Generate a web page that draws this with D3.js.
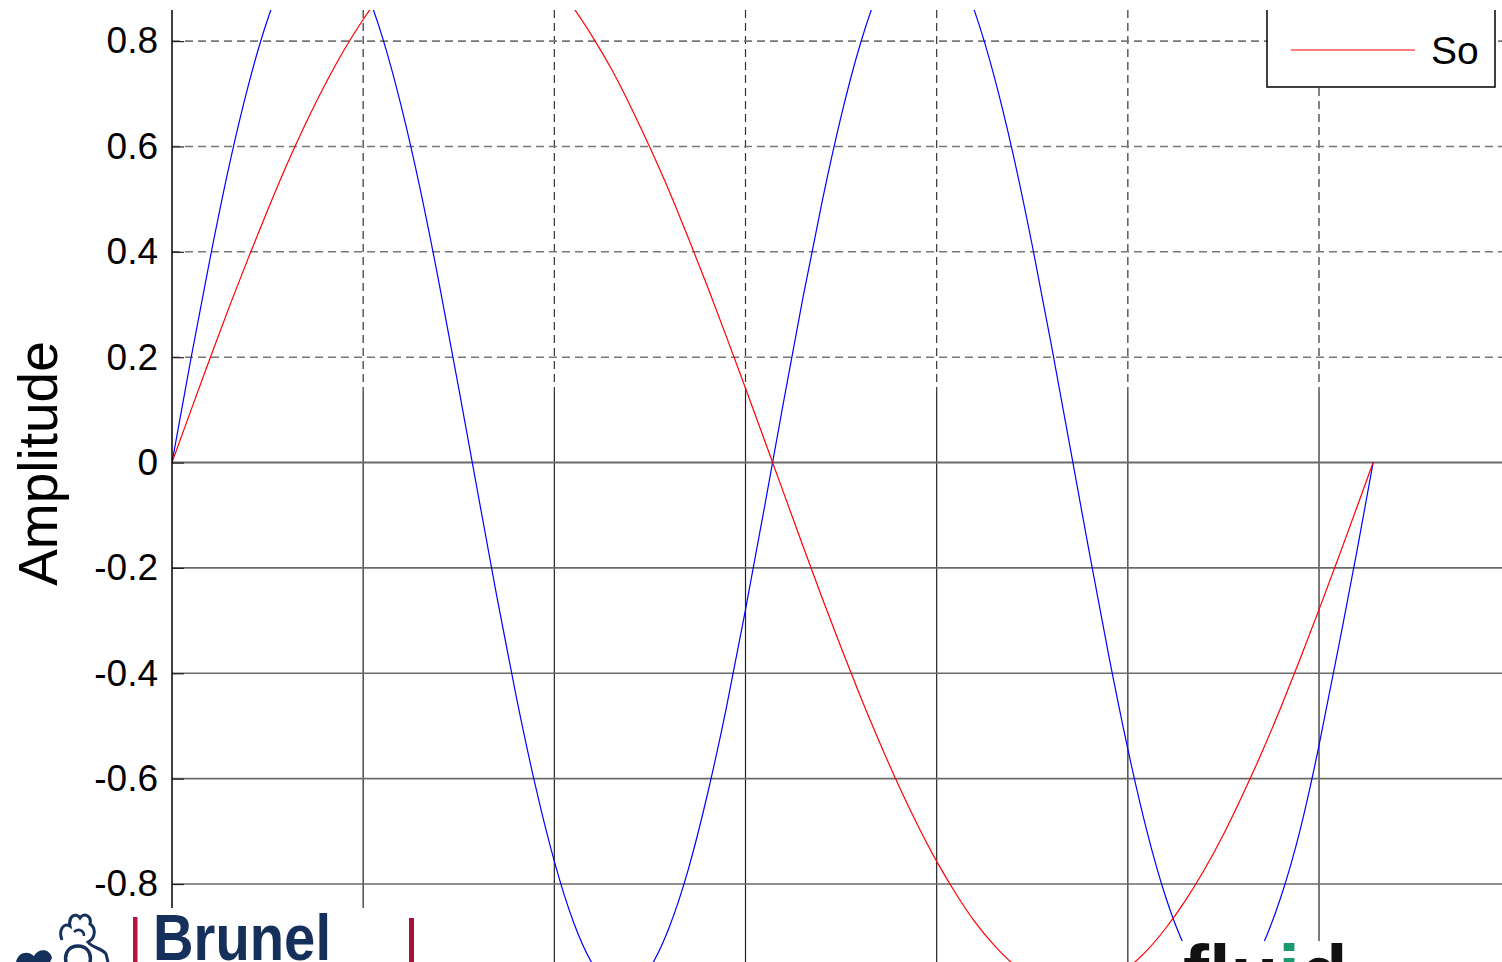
<!DOCTYPE html>
<html>
<head>
<meta charset="utf-8">
<script src="https://cdn.jsdelivr.net/npm/d3@7/dist/d3.min.js"></script>
<style>
  html, body { margin: 0; padding: 0; background: #fff; }
  svg { display: block; }
</style>
</head>
<body>
<svg id="chart" width="1502" height="962"></svg>
<script>
// x ticks (radians) and amplitude ticks
const xTicks = [0, 1, 2, 3, 4, 5, 6, 7];
const yTicks = [-0.8, -0.6, -0.4, -0.2, 0, 0.2, 0.4, 0.6, 0.8];

// sample positions along x
const tValues = [0, 0.1, 0.2, 0.3, 0.4, 0.5, 0.6, 0.7, 0.8, 0.9,
  1.0, 1.1, 1.2, 1.3, 1.4, 1.5, 1.6, 1.7, 1.8, 1.9,
  2.0, 2.1, 2.2, 2.3, 2.4, 2.5, 2.6, 2.7, 2.8, 2.9,
  3.0, 3.1, 3.2, 3.3, 3.4, 3.5, 3.6, 3.7, 3.8, 3.9,
  4.0, 4.1, 4.2, 4.3, 4.4, 4.5, 4.6, 4.7, 4.8, 4.9,
  5.0, 5.1, 5.2, 5.3, 5.4, 5.5, 5.6, 5.7, 5.8, 5.9,
  6.0, 6.1, 6.2, 6.283];

// red trace ("So")
const soValues = [0.000, 0.100, 0.199, 0.296, 0.389, 0.479, 0.565, 0.644, 0.717, 0.783,
  0.841, 0.891, 0.932, 0.964, 0.985, 0.997, 1.000, 0.992, 0.974, 0.946,
  0.909, 0.863, 0.808, 0.746, 0.675, 0.598, 0.516, 0.427, 0.335, 0.239,
  0.141, 0.042, -0.058, -0.158, -0.256, -0.351, -0.443, -0.530, -0.612, -0.688,
  -0.757, -0.818, -0.872, -0.916, -0.952, -0.978, -0.994, -1.000, -0.996, -0.982,
  -0.959, -0.926, -0.883, -0.832, -0.773, -0.706, -0.631, -0.551, -0.465, -0.374,
  -0.279, -0.182, -0.083, 0.000];

// blue trace
const blueValues = [0.000, 0.199, 0.389, 0.565, 0.717, 0.841, 0.932, 0.985, 1.000, 0.974,
  0.909, 0.808, 0.675, 0.516, 0.335, 0.141, -0.058, -0.256, -0.443, -0.612,
  -0.757, -0.872, -0.952, -0.994, -0.996, -0.959, -0.883, -0.773, -0.631, -0.465,
  -0.279, -0.083, 0.117, 0.312, 0.494, 0.657, 0.794, 0.899, 0.968, 0.999,
  0.989, 0.941, 0.855, 0.734, 0.585, 0.412, 0.223, 0.025, -0.174, -0.366,
  -0.544, -0.700, -0.827, -0.921, -0.981, -1.000, -0.980, -0.920, -0.825, -0.699,
  -0.537, -0.354, -0.165, 0.000];

const legendLabels = ["So"];

const W = 1502, H = 962;
const plotLeft = 172, plotTop = 10;
const dashSplit = 393;   // grid turns from dashed to solid here

const svg = d3.select("#chart");

const x = d3.scaleLinear().domain([0, 7]).range([plotLeft, plotLeft + 7 * 191.17]);
const y = d3.scaleLinear().domain([-0.948, 0.859]).range([H, plotTop]);

svg.append("defs").append("clipPath").attr("id", "plotClip")
  .append("rect").attr("x", plotLeft).attr("y", plotTop).attr("width", W - plotLeft).attr("height", H - plotTop);

const plot = svg.append("g").attr("clip-path", "url(#plotClip)");

// vertical grid: dashed in the upper part, solid below
plot.selectAll(".vdash").data(xTicks.slice(1)).enter().append("line")
  .attr("x1", d => x(d)).attr("x2", d => x(d))
  .attr("y1", plotTop).attr("y2", dashSplit)
  .attr("stroke", "#333").attr("stroke-width", 1.2)
  .attr("stroke-dasharray", "8,5");
plot.selectAll(".vsolid").data(xTicks.slice(1)).enter().append("line")
  .attr("x1", d => x(d)).attr("x2", d => x(d))
  .attr("y1", dashSplit).attr("y2", H)
  .attr("stroke", "#222").attr("stroke-width", 1.2);

// horizontal grid
plot.selectAll(".hgrid").data(yTicks).enter().append("line")
  .attr("x1", plotLeft).attr("x2", W)
  .attr("y1", d => y(d)).attr("y2", d => y(d))
  .attr("stroke", d => d > 0 ? "#777" : "#6a6a6a")
  .attr("stroke-width", d => d === 0 ? 2 : 1.6)
  .attr("stroke-dasharray", d => d > 0 ? "8,5" : null);

// traces
const line = d3.line().curve(d3.curveNatural);
plot.append("path")
  .attr("d", line(tValues.map((t, i) => [x(t), y(blueValues[i])])))
  .attr("fill", "none").attr("stroke", "#0000ff").attr("stroke-width", 1.2);
plot.append("path")
  .attr("d", line(tValues.map((t, i) => [x(t), y(soValues[i])])))
  .attr("fill", "none").attr("stroke", "#ff0000").attr("stroke-width", 1.2);

// y axis
const yAxis = d3.axisLeft(y).tickValues(yTicks).tickSize(-12).tickPadding(14)
  .tickFormat(d => d === 0 ? "0" : d.toFixed(1));
const ax = svg.append("g").attr("transform", `translate(${plotLeft},0)`).call(yAxis);
ax.select(".domain").remove();
ax.selectAll(".tick line").attr("stroke", "#222").attr("stroke-width", 1.2);
ax.selectAll(".tick text")
  .attr("font-family", "Liberation Sans, Arial, sans-serif")
  .attr("font-size", 37).attr("fill", "#000");
svg.append("line").attr("x1", plotLeft).attr("x2", plotLeft).attr("y1", plotTop).attr("y2", 908)
  .attr("stroke", "#000").attr("stroke-width", 1.5);

svg.append("text")
  .attr("transform", `translate(57,${y(0) + 1}) rotate(-90)`)
  .attr("text-anchor", "middle")
  .attr("font-family", "Liberation Sans, Arial, sans-serif")
  .attr("font-size", 55).attr("fill", "#000")
  .text("Amplitude");

// legend (top is cut off by the frame)
const lg = svg.append("g");
lg.append("rect").attr("x", 1267).attr("y", -20).attr("width", 228).attr("height", 107)
  .attr("fill", "#fff").attr("stroke", "#000").attr("stroke-width", 1.5);
lg.selectAll(".lgitem").data(legendLabels).enter().append("line")
  .attr("x1", 1291).attr("x2", 1415).attr("y1", 50).attr("y2", 50)
  .attr("stroke", "#ff0000").attr("stroke-width", 1.2);
lg.selectAll(".lgtext").data(legendLabels).enter().append("text")
  .attr("x", 1431).attr("y", 64)
  .attr("font-family", "Liberation Sans, Arial, sans-serif")
  .attr("font-size", 39).attr("fill", "#000")
  .text(d => d);

// white band above the plot
svg.append("rect").attr("x", 0).attr("y", 0).attr("width", W).attr("height", plotTop).attr("fill", "#fff");

// logos at the bottom
const logoL = svg.append("g");
logoL.append("rect").attr("x", 0).attr("y", 908).attr("width", 552).attr("height", 54).attr("fill", "#fff");
const navy = "#16305c";
logoL.append("path")
  .attr("d", "M62,940 C58,930 64,922 70,926 C68,916 76,912 80,918 C84,912 92,916 90,924 C96,928 96,938 88,942 C92,948 102,948 106,954 L108,962")
  .attr("fill", "none").attr("stroke", navy).attr("stroke-width", 3);
logoL.append("path")
  .attr("d", "M66,962 C64,952 70,946 78,946 C86,946 92,952 90,962")
  .attr("fill", "none").attr("stroke", navy).attr("stroke-width", 3.5);
logoL.append("path")
  .attr("d", "M16,962 C18,952 28,950 34,956 C38,948 50,948 52,958 L50,962 Z")
  .attr("fill", navy);
logoL.append("path")
  .attr("d", "M74,932 C78,928 84,930 84,936")
  .attr("fill", "none").attr("stroke", navy).attr("stroke-width", 2.5);
logoL.append("rect").attr("x", 133).attr("y", 917).attr("width", 4.5).attr("height", 45).attr("fill", "#b3163e");
logoL.append("rect").attr("x", 409).attr("y", 918).attr("width", 5).attr("height", 44).attr("fill", "#a8123a");
logoL.append("text")
  .attr("x", 153).attr("y", 960)
  .attr("font-family", "Liberation Sans, Arial, sans-serif")
  .attr("font-weight", "bold").attr("font-size", 65).attr("fill", navy)
  .attr("textLength", 178).attr("lengthAdjust", "spacingAndGlyphs")
  .text("Brunel");

const logoR = svg.append("g");
logoR.append("rect").attr("x", 1172).attr("y", 941).attr("width", 204).attr("height", 21).attr("fill", "#fff");
const fluid = logoR.append("text")
  .attr("x", 1183).attr("y", 1000)
  .attr("font-family", "Liberation Sans, Arial, sans-serif")
  .attr("font-weight", "bold").attr("font-size", 78).attr("fill", "#111");
fluid.append("tspan").text("flu");
fluid.append("tspan").attr("fill", "#1a9a6e").text("i");
fluid.append("tspan").text("d");
</script>
</body>
</html>
